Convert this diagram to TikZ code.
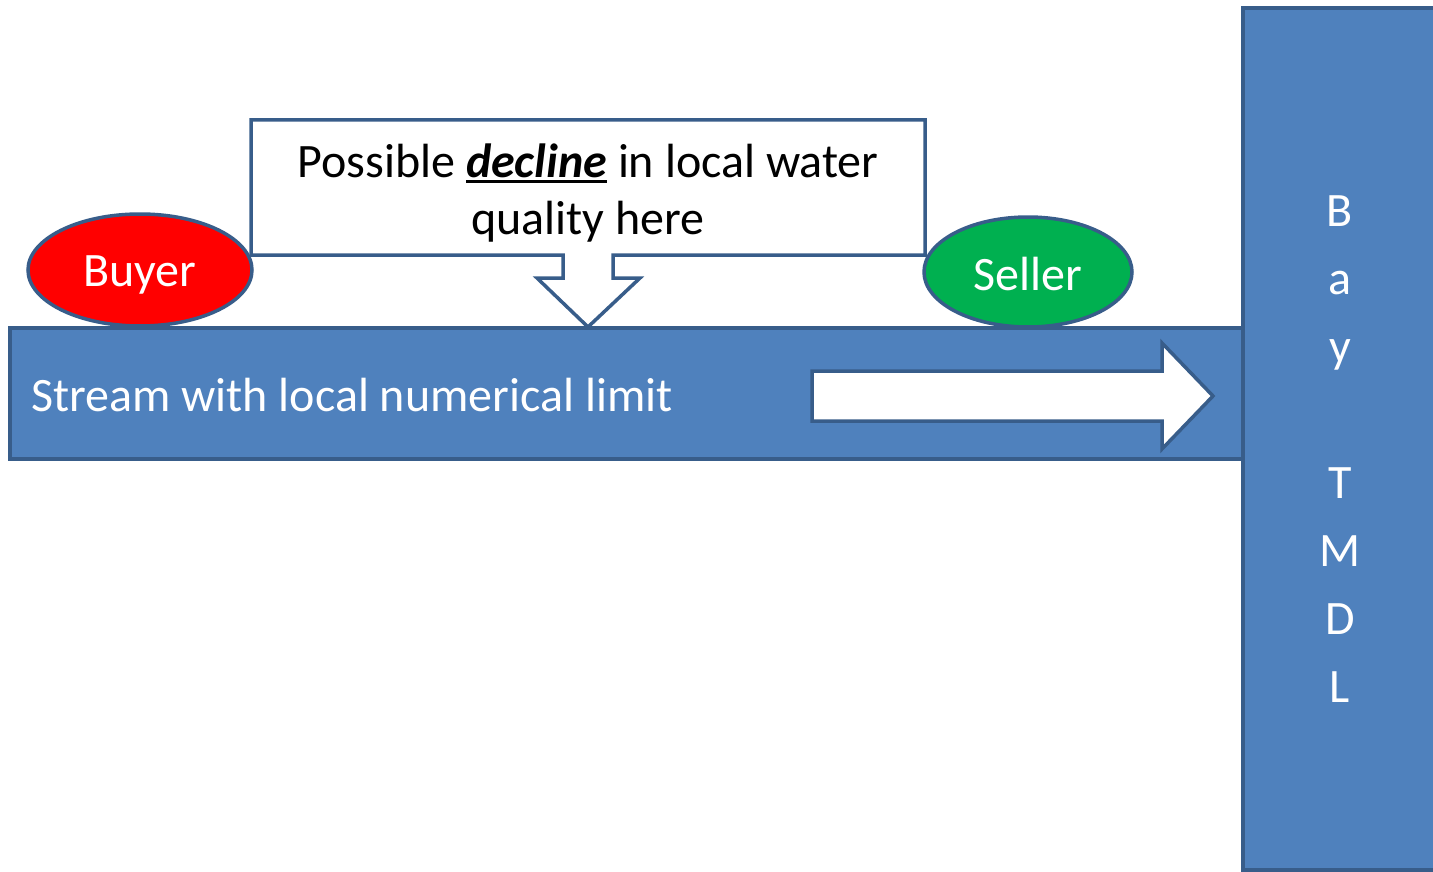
\documentclass[tikz,border=0pt]{standalone}
\usepackage{fontspec}
\setmainfont{Carlito}
\usetikzlibrary{shapes.geometric}
\definecolor{bfill}{HTML}{4F81BD}
\definecolor{bline}{HTML}{385D8A}
\definecolor{buyred}{HTML}{FF0000}
\definecolor{sellgreen}{HTML}{00B050}
\newcommand\thickul[1]{\setbox0\hbox{#1}\rlap{\rule[-6pt]{\wd0}{3.2pt}}\box0\relax}
\tikzset{
  shapeline/.style={draw=bline, line width=3.5pt, line join=miter},
  bluebox/.style={shapeline, fill=bfill},
  party/.style={ellipse, shapeline, inner sep=0pt},
  label/.style={inner sep=0pt, font=\fontsize{48}{57}\selectfont, align=center}
}
\begin{document}
\begin{tikzpicture}[x=1pt, y=-1pt]
\useasboundingbox (0,0) rectangle (1433,872);
\clip (0,0) rectangle (1433,872);
% Bay TMDL
\draw[bluebox] (1243,8) rectangle (1460,870);
\node[label, text=white, font=\fontsize{48}{68}\selectfont] (bay) at (1340,449) {B\\a\\y\\[68pt]T\\M\\D\\L};
% Stream
\draw[bluebox] (10,328) rectangle (1243,459);
\node[label, text=white, anchor=base west] (stream) at (31,411) {Stream with local numerical limit};
% white flow arrow
\draw[shapeline, fill=white] (812,371) -- (1162,371) -- (1162,343) -- (1213,396) -- (1162,449) -- (1162,421) -- (812,421) -- cycle;
\coordinate (flowtip) at (1213,396);
% callout
\draw[shapeline, fill=white] (251,120) -- (925,120) -- (925,255) -- (613,255) -- (613,278) -- (640,278) -- (588,327) -- (537,278) -- (563,278) -- (563,255) -- (251,255) -- cycle;
\node[label] (callout) at (588,193) {Possible \thickul{\textbf{\textit{decline}}} in local water\\quality here};
% parties
\node[party, fill=buyred, minimum width=224pt, minimum height=112pt] (buyer) at (140,270) {};
\node[label, text=white, anchor=base] (buyertext) at (buyer.center |- 0,286) {Buyer};
\node[party, fill=sellgreen, minimum width=208pt, minimum height=110pt] (seller) at (1028,272) {};
\node[label, text=white, anchor=base] (sellertext) at (seller.center |- 0,290) {Seller};
\end{tikzpicture}
\end{document}
